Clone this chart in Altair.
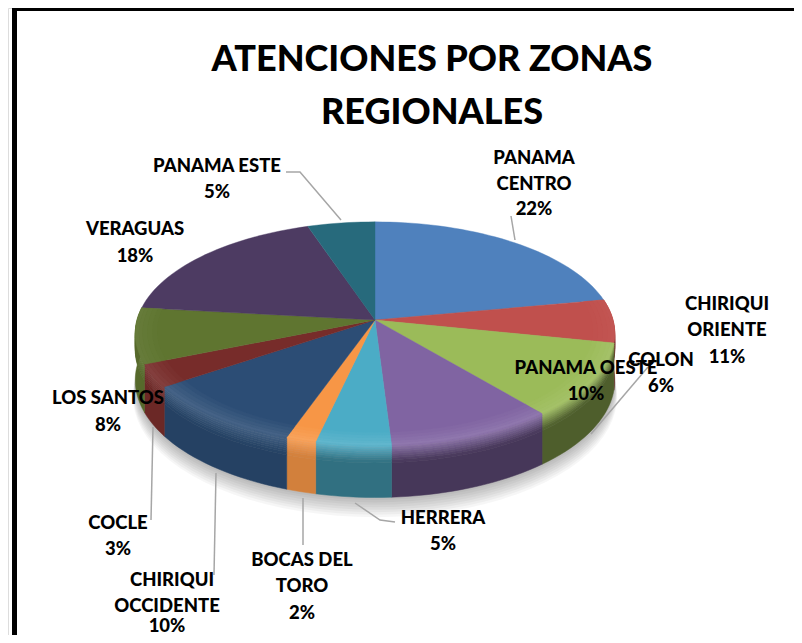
import math
import altair as alt
import pandas as pd

# ---- chart values (share of attentions, clockwise from twelve o'clock) ----
zones = ["PANAMA CENTRO", "COLON", "CHIRIQUI ORIENTE", "PANAMA OESTE", "HERRERA", "BOCAS DEL TORO",
         "CHIRIQUI OCCIDENTE", "COCLE", "LOS SANTOS", "VERAGUAS", "PANAMA ESTE"]
shares = [22, 6.25, 10.75, 10, 4.5, 1.8, 10.1, 3.3, 8.05, 18.1, 5.1]
top_colors = ["#4F81BD", "#C0504D", "#9BBB59", "#8064A2", "#4BACC6", "#F79646",
              "#2C4D75", "#772C2A", "#5F7530", "#4D3B62", "#276A7C"]
wall_factor = [.5, .55, .5, .55, .65, .85, .85, .9, .9, .8, .8]

# ---- label text, one row per line (screen position kept apart) ----
label_text = ["PANAMA ESTE", "5%", "PANAMA", "CENTRO", "22%", "CHIRIQUI", "ORIENTE", "11%",
              "PANAMA OESTE", "10%", "COLON", "6%", "VERAGUAS", "18%", "LOS SANTOS", "8%",
              "COCLE", "3%", "CHIRIQUI", "OCCIDENTE", "10%", "BOCAS DEL", "TORO", "2%", "HERRERA", "5%"]
label_x = [217, 217, 534, 534, 534, 727, 727, 727, 586, 586, 661, 661, 135, 135, 108, 108,
           118, 118, 172, 167, 167, 302, 302, 302, 443, 443]
label_y = [166, 192, 158, 184, 209, 304, 330, 357, 368, 394, 360, 386, 229, 256, 398, 425,
           523, 549, 580, 606, 626, 560, 586, 613, 518, 544]

leader_id = [0, 0, 0, 1, 1, 2, 2, 3, 3, 4, 4, 5, 5, 6, 6, 6]
leader_x = [286, 300, 341, 511, 515, 648, 591, 153, 151, 216, 214, 303, 303, 355, 380, 395]
leader_y = [172, 172, 220, 216, 240, 367, 434, 427, 520, 473, 575, 498, 545, 503, 520, 522]

title_lines = ["ATENCIONES POR ZONAS", "REGIONALES"]

# ---- page geometry ----
OFF = 8
W, H = 786, 627
CX, CY, A, B, K = 375, 320, 238, 110, 0.121
DEPTH = 46


def project(t_deg, r=1.0, drop=0.0):
    t = math.radians(t_deg)
    u, v = r * math.sin(t), r * math.cos(t)
    w = 1 + K * v
    return [CX + A * u / w, CY - B * v / w + drop / w]


def rgb(h):
    return [int(h[i:i + 2], 16) for i in (1, 3, 5)]


def hexc(c):
    return "#%02x%02x%02x" % tuple(max(0, min(255, round(x))) for x in c)


def mix(c1, c2, f):
    return [a + (b - a) * f for a, b in zip(c1, c2)]


def poly(points):
    ring = points + [points[0]]
    return {"type": "Polygon", "coordinates": [ring]}


def sweep(a, b, step=2.0):
    n = max(1, math.ceil((b - a) / step))
    return [a + (b - a) * i / n for i in range(n + 1)]


total = sum(shares)
bounds = [0.0]
for s in shares:
    bounds.append(bounds[-1] + s / total * 360)

shadow, wall, top, bevel = [], [], [], []

# soft cast shadow under the disc
for s in [16, 14, 12, 10, 8, 6, 4, 2]:
    pts = [project(t, 1.0 + 0.0006 * s, DEPTH + s) for t in sweep(0, 360, 4)][:-1]
    shadow.append({"type": "Feature", "geometry": poly(pts), "properties": {}})

WALL_STOPS = [0, .04, .08, .12, .16, .2, .24, .28, .34, 1]
RIM_STOPS = [.91, .93, .95, .97, .985, 1.0]
for i, (a, b) in enumerate(zip(bounds[:-1], bounds[1:])):
    base = rgb(top_colors[i])
    light = mix(base, [255, 255, 255], .12)
    dark = [c * wall_factor[i] for c in base]
    # top face
    pts = [[CX, CY]] + [project(t) for t in sweep(a, b)]
    top.append({"type": "Feature", "geometry": poly(pts), "properties": {"c": top_colors[i]}})
    tm = (a + b) / 2
    strength = max(0.0, min(1.0, 0.25 - math.cos(math.radians(tm))))
    if strength <= 0.0:
        continue
    ts = sweep(a, b)
    # rounded rim on the top face
    for j, (r0, r1) in enumerate(zip(RIM_STOPS[:-1], RIM_STOPS[1:])):
        col = hexc(mix(base, light, strength * (j + 1) / 5))
        q = [project(t, r0) for t in ts] + [project(t, r1) for t in reversed(ts)]
        bevel.append({"type": "Feature", "geometry": poly(q), "properties": {"c": col}})
    # side wall
    rimc = mix(base, light, strength)
    for j, (d0, d1) in enumerate(zip(WALL_STOPS[:-1], WALL_STOPS[1:])):
        f = min(1.0, (j + .5) / 8)
        col = hexc(mix(rimc, dark, f))
        q = [project(t, 1, d0 * DEPTH) for t in ts] + [project(t, 1, d1 * DEPTH) for t in reversed(ts)]
        wall.append({"type": "Feature", "geometry": poly(q), "properties": {"c": col}})

proj = dict(type="identity", scale=1, translate=[-OFF, -OFF])


def shape_layer(features, **mark):
    return alt.Chart(alt.Data(values=features, format=alt.DataFormat(type="json"))).mark_geoshape(
        **mark).encode(
        fill=alt.Color("properties.c:N", scale=None),
        stroke=alt.Color("properties.c:N", scale=None),
    ).project(**proj)


shadow_layer = alt.Chart(alt.Data(values=shadow, format=alt.DataFormat(type="json"))).mark_geoshape(
    fill="#000000", fillOpacity=0.035, strokeWidth=0).project(**proj)
wall_layer = shape_layer(wall, strokeWidth=0.5)
top_layer = shape_layer(top, strokeWidth=0.4)
bevel_layer = shape_layer(bevel, strokeWidth=0.4)

leaders = pd.DataFrame({"id": leader_id, "x": [v - OFF for v in leader_x], "y": [v - OFF for v in leader_y],
                        "o": range(len(leader_id))})
leader_layer = alt.Chart(leaders).mark_line(color="#a6a6a6", strokeWidth=1.5).encode(
    x=alt.X("x:Q", scale=None, axis=None),
    y=alt.Y("y:Q", scale=None, axis=None),
    detail="id:N",
    order="o:Q",
)

labels = pd.DataFrame({"t": label_text, "x": [v - OFF for v in label_x], "y": [v - OFF for v in label_y]})
label_layer = alt.Chart(labels).mark_text(
    font="Lato", fontWeight=900, fontSize=18.5, color="#000000", align="center", baseline="middle"
).encode(
    x=alt.X("x:Q", scale=None, axis=None),
    y=alt.Y("y:Q", scale=None, axis=None),
    text="t:N",
)

frame_left = alt.Chart(pd.DataFrame({"k": [0]})).mark_rect(color="#000000").encode(
    x=alt.value(12 - OFF), x2=alt.value(17 - OFF), y=alt.value(0), y2=alt.value(H))
frame_top = alt.Chart(pd.DataFrame({"k": [0]})).mark_rect(color="#000000").encode(
    x=alt.value(12 - OFF), x2=alt.value(W), y=alt.value(0), y2=alt.value(11 - OFF))

chart = alt.layer(
    frame_left, frame_top, shadow_layer, wall_layer, top_layer, bevel_layer, leader_layer, label_layer
).properties(
    width=W, height=H, padding=0, autosize=alt.AutoSizeParams(type="none"),
    title=alt.TitleParams(text=title_lines, font="Lato", fontWeight=900, fontSize=36, color="#000000",
                          lineHeight=53, anchor="middle", dx=31, dy=124, offset=0),
).configure_view(stroke=None).configure(background="#ffffff")

chart.save("out.html", embed_options={"renderer": "svg", "actions": False})
